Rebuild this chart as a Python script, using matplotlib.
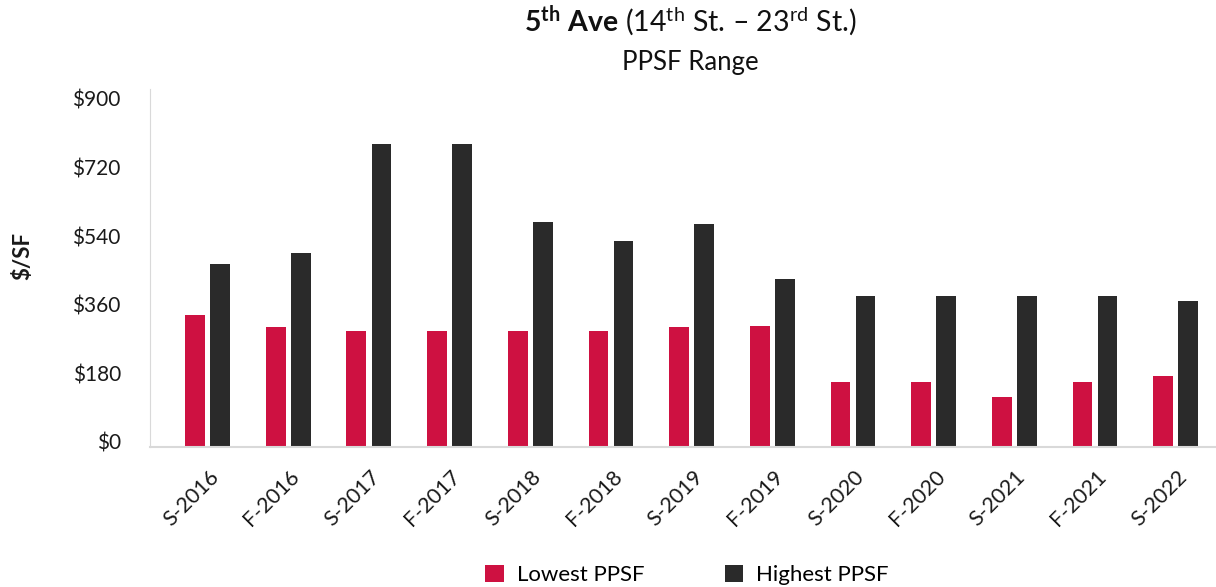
import matplotlib
matplotlib.use('Agg')
import matplotlib.pyplot as plt
import matplotlib.transforms as mtransforms
import numpy as np

# DATA
seasons = ['S-2016', 'F-2016', 'S-2017', 'F-2017', 'S-2018', 'F-2018', 'S-2019',
           'F-2019', 'S-2020', 'F-2020', 'S-2021', 'F-2021', 'S-2022']
lowest_ppsf = [345, 315, 305, 305, 305, 305, 315, 318, 170, 170, 130, 170, 185]
highest_ppsf = [480, 510, 795, 795, 590, 540, 585, 440, 395, 395, 395, 395, 382]
y_ticks = [0, 180, 360, 540, 720, 900]

red = '#CE1141'
dark = '#2A2A2A'

plt.rcParams['font.family'] = ['Lato', 'DejaVu Sans']
plt.rcParams['mathtext.fontset'] = 'custom'
plt.rcParams['mathtext.rm'] = 'Lato'
plt.rcParams['mathtext.it'] = 'Lato:italic'
plt.rcParams['mathtext.bf'] = 'Lato:bold'

fig = plt.figure(figsize=(12.16, 5.87), dpi=100)
ax = fig.add_axes([150/1216, 1-447/587, 1-150/1216, (447-89)/587])

x = np.arange(len(seasons))
w = 0.245
ax.bar(x - 0.155, lowest_ppsf, w, color=red, label='Lowest PPSF')
ax.bar(x + 0.155, highest_ppsf, w, color=dark, label='Highest PPSF')

ax.set_xlim(-0.713, 12.5)
ax.set_ylim(0, 939)
ax.set_yticks(y_ticks)
ax.set_yticklabels(['\\$%d' % v for v in y_ticks])
ax.set_xticks(x)
ax.set_xticklabels(seasons, rotation=45, ha='right', va='center', rotation_mode='anchor')

ax.tick_params(axis='y', length=0, pad=21, labelsize=15, labelcolor='#1a1a1a')
ax.tick_params(axis='x', length=0, pad=19, labelsize=15.5, labelcolor='#1a1a1a')

# nudge tick labels like the original (y labels a bit up, x labels a bit right)
up = mtransforms.ScaledTranslation(0, 5/100, fig.dpi_scale_trans)
for lab in ax.get_yticklabels():
    lab.set_transform(lab.get_transform() + up)
right = mtransforms.ScaledTranslation(8/100, 0, fig.dpi_scale_trans)
for lab in ax.get_xticklabels():
    lab.set_transform(lab.get_transform() + right)

for s in ['top', 'right']:
    ax.spines[s].set_visible(False)
ax.spines['left'].set_color('#d9d9d9')
ax.spines['bottom'].set_color('#d9d9d9')
ax.spines['bottom'].set_linewidth(1.5)

ax.set_ylabel('$/SF', fontsize=16, fontweight='bold', color='#1a1a1a')
ax.yaxis.set_label_coords((33-150)/1066, 0.533)

# TITLE WITH SUPERSCRIPTS
fig.text(690/1216, 1-31.5/587, r'$\mathbf{5^{th}\ Ave}$ (14$^{\rm th}$ St. – 23$^{\rm rd}$ St.)',
         ha='center', va='baseline', fontsize=20.5, color='#111111')
fig.text(690/1216, 1-70/587, 'PPSF Range', ha='center', va='baseline', fontsize=18.5, color='#111111')

fig.legend(loc='center', bbox_to_anchor=(687/1216, 1-575/587), ncol=2, frameon=False,
           fontsize=16, handlelength=0.82, handleheight=0.82, handletextpad=0.6,
           columnspacing=3.6)

fig.savefig('out.png', dpi=100)
